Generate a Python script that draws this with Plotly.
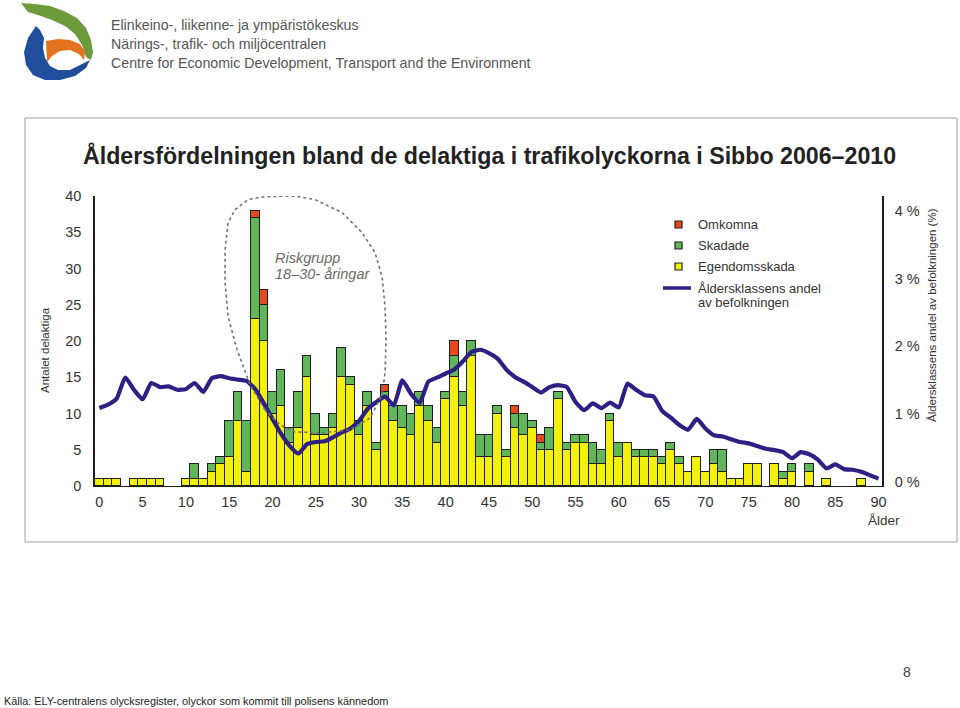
import plotly.graph_objects as go

W, H = 960, 708

# ---------------- data ----------------
ages = list(range(0, 91))

egendomsskada = [1, 1, 1, 0, 1, 1, 1, 1, 0, 0,
                 1, 1, 1, 2, 3, 4, 9, 2, 23, 20,
                 10, 11, 6, 8, 15, 7, 7, 8, 15, 14,
                 7, 11, 5, 12, 9, 8, 7, 11, 9, 6,
                 12, 15, 11, 18, 4, 4, 10, 4, 8, 7,
                 8, 5, 5, 12, 5, 6, 6, 3, 3, 9,
                 4, 6, 4, 4, 4, 3, 5, 3, 2, 4,
                 2, 3, 2, 1, 1, 3, 3, 0, 3, 1,
                 2, 0, 2, 0, 1, 0, 0, 0, 1, 0, 0]

skadade = [0, 0, 0, 0, 0, 0, 0, 0, 0, 0,
           0, 2, 0, 1, 1, 5, 4, 7, 14, 5,
           3, 5, 2, 5, 3, 3, 1, 2, 4, 1,
           2, 2, 1, 1, 2, 3, 3, 2, 2, 2,
           1, 3, 2, 2, 3, 3, 1, 1, 2, 3,
           1, 1, 3, 1, 1, 1, 1, 3, 2, 1,
           2, 0, 1, 1, 1, 1, 1, 1, 0, 0,
           0, 2, 3, 0, 0, 0, 0, 0, 0, 1,
           1, 0, 1, 0, 0, 0, 0, 0, 0, 0, 0]

omkomna = [0] * 91
omkomna_ages = [18, 19, 33, 41, 48, 51]
omkomna_vals = [1, 2, 1, 2, 1, 1]
for a, v in zip(omkomna_ages, omkomna_vals):
    omkomna[a] = v

andel = [1.09, 1.14, 1.23, 1.54, 1.36, 1.22, 1.46, 1.40, 1.41, 1.36,
         1.37, 1.46, 1.33, 1.53, 1.56, 1.53, 1.51, 1.49, 1.37, 1.16,
         0.93, 0.71, 0.53, 0.42, 0.56, 0.59, 0.60, 0.66, 0.73, 0.79,
         0.90, 1.08, 1.18, 1.26, 1.13, 1.50, 1.30, 1.17, 1.48, 1.54,
         1.60, 1.66, 1.78, 1.92, 1.95, 1.90, 1.82, 1.66, 1.55, 1.48,
         1.40, 1.32, 1.40, 1.43, 1.40, 1.18, 1.06, 1.16, 1.09, 1.17,
         1.10, 1.45, 1.36, 1.28, 1.26, 1.05, 0.95, 0.84, 0.77, 0.93,
         0.79, 0.69, 0.67, 0.63, 0.59, 0.57, 0.53, 0.49, 0.47, 0.44,
         0.35, 0.44, 0.41, 0.33, 0.20, 0.26, 0.19, 0.18, 0.15, 0.10, 0.05]

x_ticks = list(range(0, 91, 5))
y_ticks = list(range(0, 41, 5))
pct_ticks = [0, 1, 2, 3, 4]
pct_labels = ["0 %", "1 %", "2 %", "3 %", "4 %"]

title = "Åldersfördelningen bland de delaktiga i trafikolyckorna i Sibbo 2006–2010"
header_lines = ["Elinkeino-, liikenne- ja ympäristökeskus",
                "Närings-, trafik- och miljöcentralen",
                "Centre for Economic Development, Transport and the Environment"]
legend_names = ["Omkomna", "Skadade", "Egendomsskada"]
line_name = ["Åldersklassens andel", "av befolkningen"]
source = "Källa: ELY-centralens olycksregister, olyckor som kommit till polisens kännedom"

# ---------------- style ----------------
YEL = "#f3f00c"
GRN = "#62b65a"
RED = "#e64a1c"
EDGE = "#1e1e1e"
NAVY = "#2e1f85"
FONT = "Liberation Sans, Arial, sans-serif"

def px(x):
    return x / W

def py(y):
    return 1 - y / H

def nz(vals):
    return [v if v else None for v in vals]

fig = go.Figure()
for vals, col, name in [(egendomsskada, YEL, "Egendomsskada"),
                        (skadade, GRN, "Skadade"),
                        (omkomna, RED, "Omkomna")]:
    fig.add_bar(x=ages, y=nz(vals), name=name, width=1,
                marker=dict(color=col, line=dict(color=EDGE, width=1)),
                showlegend=False)

fig.add_scatter(x=ages, y=andel, yaxis="y2", mode="lines",
                line=dict(color=NAVY, width=4.2, shape="spline", smoothing=0.5),
                showlegend=False)

# ---------------- decorations ----------------
def to_data(pxl, pyl):
    return (pxl - 99.2) / 8.66, (486 - pyl) / 7.24

ellipse_px = [(265, 410), (250, 385), (237, 350), (228, 317), (225, 283), (225, 250),
              (228, 223), (235, 210), (248, 200), (265, 197), (295, 196.5), (315, 200),
              (342, 213), (362, 233), (375, 253), (382, 277), (385, 307), (386, 340),
              (385, 373), (382, 395), (370, 418), (350, 430), (320, 433), (295, 432),
              (280, 425)]
pts = [to_data(a, b) for a, b in ellipse_px]
epath = "M " + " L ".join(f"{a:.3f},{b:.3f}" for a, b in pts) + " Z"

def ppath(points):
    return "M " + " L ".join(f"{px(a):.5f},{py(b):.5f}" for a, b in points) + " Z"

shapes = [
    dict(type="rect", xref="paper", yref="paper", x0=px(25), x1=px(957),
         y0=py(542), y1=py(118), line=dict(color="#a0a0a0", width=1), layer="below"),
    dict(type="path", xref="x", yref="y", path=epath,
         line=dict(color="#707070", width=1.6, dash="dot")),
    # logo
    dict(type="path", xref="paper", yref="paper", fillcolor="#6b9b3a", line=dict(width=0),
         path=ppath([(21, 3), (35, 4), (50, 6), (64, 11), (77, 18), (86, 28), (91, 40),
                     (93, 52), (91, 60), (86, 57), (82, 45), (75, 34), (65, 26), (52, 20),
                     (38, 15), (28, 12)])),
    dict(type="path", xref="paper", yref="paper", fillcolor="#1f4f9c", line=dict(width=0),
         path=ppath([(36, 26), (28, 38), (24, 52), (26, 65), (33, 75), (45, 80), (60, 80),
                     (75, 76), (86, 68), (90, 60), (82, 64), (70, 70), (58, 70), (50, 66),
                     (45, 58), (43, 48), (44, 38), (40, 30)])),
    dict(type="path", xref="paper", yref="paper", fillcolor="#e4731f", line=dict(width=0),
         path=ppath([(46, 41), (58, 39), (70, 40), (80, 44), (85, 52), (84, 60), (79, 54),
                     (70, 50), (60, 51), (52, 56), (47, 62)])),
]

annotations = []

def note(x, y, text, size, color="#333", xanchor="left", angle=0):
    annotations.append(dict(xref="paper", yref="paper", x=px(x), y=py(y), text=text,
                            showarrow=False, xanchor=xanchor, yanchor="middle",
                            textangle=angle, font=dict(size=size, color=color)))

# legend (manual)
leg_y = [224.5, 245.5, 266.5]
leg_cols = [RED, GRN, YEL]
for yy, col, name in zip(leg_y, leg_cols, legend_names):
    shapes.append(dict(type="rect", xref="paper", yref="paper",
                       x0=px(675), x1=px(682), y0=py(yy + 3.5), y1=py(yy - 3.5),
                       fillcolor=col, line=dict(color=EDGE, width=1.2)))
    note(696, yy, name, 13)
shapes.append(dict(type="line", xref="paper", yref="paper", x0=px(663), x1=px(691),
                   y0=py(288), y1=py(288), line=dict(color=NAVY, width=3.5)))
note(696, 288, line_name[0], 13)
note(696, 302, line_name[1], 13)

note(490, 155, f"<b>{title}</b>", 23.2, "#222", "center")
note(273, 258, "<i>Riskgrupp</i>", 14.5, "#6a6a6a")
note(273, 274, "<i>18–30- åringar</i>", 14.5, "#6a6a6a")
note(45, 350, "Antalet delaktiga", 11.5, "#333", "center", -90)
note(932, 315, "Åldersklassens andel av befolkningen (%)", 11.5, "#333", "center", -90)
note(884, 520, "Ålder", 13.5, "#333", "center")
note(2, 701, source, 10.9, "#222")
note(907, 672, "8", 14, "#444", "center")
for line, yy in zip(header_lines, [25, 44, 63]):
    note(109, yy, line, 14.2, "#555")

fig.update_layout(
    width=W, height=H, margin=dict(l=0, r=0, t=0, b=0, autoexpand=False),
    paper_bgcolor="white", plot_bgcolor="rgba(0,0,0,0)",
    barmode="stack", bargap=0,
    font=dict(family=FONT, color="#333"),
    shapes=shapes, annotations=annotations,
    xaxis=dict(domain=[px(95), px(882)], range=[-0.5, 90.4], tickvals=x_ticks,
               showgrid=False, zeroline=False, showline=True, linecolor=EDGE, linewidth=1.2,
               ticks="", tickfont=dict(size=14.5, color="#333"), ticklabelstandoff=2),
    yaxis=dict(domain=[py(486), py(196)], range=[0, 40], tickvals=y_ticks,
               showgrid=False, zeroline=False, showline=True, linecolor=EDGE, linewidth=1.5,
               ticks="", tickfont=dict(size=14.5, color="#333"), ticklabelstandoff=9),
    yaxis2=dict(overlaying="y", side="right", range=[-0.059, 4.218], tickvals=pct_ticks,
                ticktext=pct_labels, showgrid=False, zeroline=False, showline=True,
                linecolor=EDGE, linewidth=1.5, ticks="", tickfont=dict(size=14.5, color="#333"),
                ticklabelstandoff=8),
)

fig.write_html("out.html", config={"displayModeBar": False},
               post_script="document.body.style.margin='0px';document.body.style.overflow='hidden';")
